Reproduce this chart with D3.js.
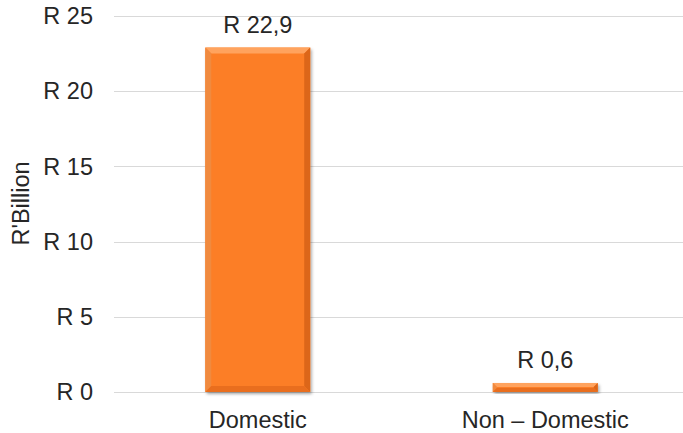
<!DOCTYPE html>
<html><head><meta charset="utf-8">
<script src="https://cdn.jsdelivr.net/npm/d3@7"></script>
<style>html,body{margin:0;padding:0;background:#fff;}svg{display:block;font-family:"Liberation Sans",Arial,sans-serif;}</style>
</head><body>
<svg id="c" width="683" height="433"></svg>
<script>
const categories = ["Domestic", "Non \u2013 Domestic"];
const values = [22.9, 0.6];
const valueLabels = ["R 22,9", "R 0,6"];
const yTicks = [0, 5, 10, 15, 20, 25];
const yTickLabels = ["R 0", "R 5", "R 10", "R 15", "R 20", "R 25"];
const yTitle = "R'Billion";

const svg = d3.select("#c");
const pLeft = 114, pRight = 689, pTop = 16, pBottom = 392;
const fs = 23.5;
const x = d3.scaleBand().domain(categories).range([pLeft, pRight]).paddingInner(0.635).paddingOuter(0.3175);
const y = d3.scaleLinear().domain([0, 25]).range([pBottom, pTop]);
const textColor = "#262626";

const defs = svg.append("defs");
const f = defs.append("filter").attr("id","sh").attr("x","-20%").attr("y","-20%").attr("width","140%").attr("height","140%");
f.append("feDropShadow").attr("dx",1.5).attr("dy",2).attr("stdDeviation",1.8).attr("flood-color","#000").attr("flood-opacity",0.35);

// gridlines
svg.append("g").selectAll("line").data(yTicks).join("line")
  .attr("x1", pLeft).attr("x2", pRight)
  .attr("y1", d => Math.round(y(d)) + 0.5).attr("y2", d => Math.round(y(d)) + 0.5)
  .attr("stroke", "#d9d9d9").attr("stroke-width", 1);

// y tick labels
svg.append("g").selectAll("text").data(yTicks).join("text")
  .attr("x", 93).attr("y", d => y(d)).attr("dy", "0.35em")
  .attr("text-anchor", "end").attr("font-size", fs).attr("fill", textColor)
  .text((d, i) => yTickLabels[i]);

// y title
svg.append("text").attr("transform", "translate(29,203.5) rotate(-90)")
  .attr("text-anchor", "middle").attr("font-size", fs).attr("fill", textColor)
  .text(yTitle);

// bars
const bars = svg.append("g").selectAll("g").data(categories).join("g");
bars.each(function(c, i) {
  const g = d3.select(this);
  const x0 = x(c), w = x.bandwidth(), y0 = y(values[i]), h = y(0) - y(values[i]);
  const b = Math.min(6, h / 2 - 0.5);
  g.append("rect").attr("x", x0).attr("y", y0).attr("width", w).attr("height", h)
    .attr("fill", "#fc7e27").attr("filter", "url(#sh)");
  g.append("polygon").attr("points", [[x0,y0],[x0+w,y0],[x0+w-b,y0+b],[x0+b,y0+b]].join(" ")).attr("fill", "#ffa35e");
  g.append("polygon").attr("points", [[x0,y0],[x0+b,y0+b],[x0+b,y0+h-b],[x0,y0+h]].join(" ")).attr("fill", "#f08a3f");
  g.append("polygon").attr("points", [[x0+w,y0],[x0+w,y0+h],[x0+w-b,y0+h-b],[x0+w-b,y0+b]].join(" ")).attr("fill", "#dc6619");
  g.append("polygon").attr("points", [[x0,y0+h],[x0+b,y0+h-b],[x0+w-b,y0+h-b],[x0+w,y0+h]].join(" ")).attr("fill", "#e96e1e");
});

// value labels
svg.append("g").selectAll("text").data(categories).join("text")
  .attr("x", c => x(c) + x.bandwidth() / 2).attr("y", (c, i) => y(values[i]) - 15)
  .attr("text-anchor", "middle").attr("font-size", fs).attr("fill", textColor)
  .text((c, i) => valueLabels[i]);

// category labels
svg.append("g").selectAll("text").data(categories).join("text")
  .attr("x", c => x(c) + x.bandwidth() / 2).attr("y", 428)
  .attr("text-anchor", "middle").attr("font-size", fs).attr("fill", textColor)
  .text(c => c);
</script>
</body></html>
